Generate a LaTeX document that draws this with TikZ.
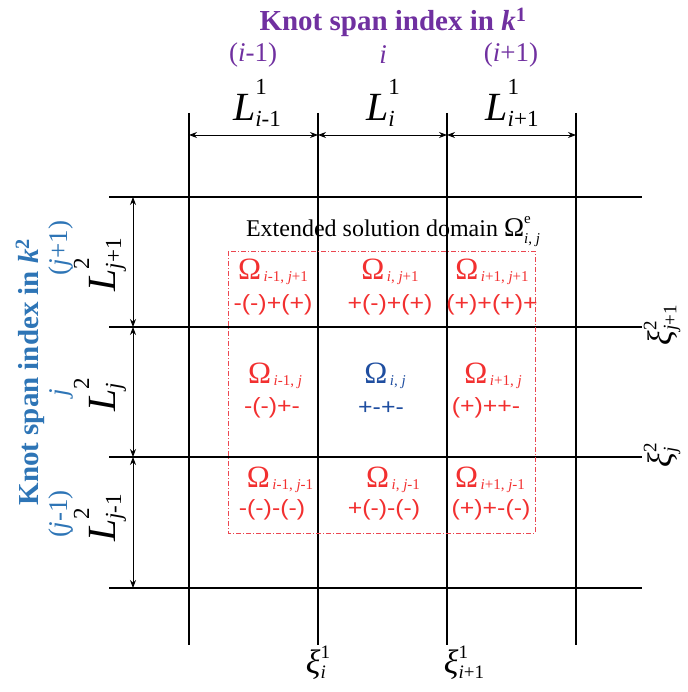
\documentclass[tikz,border=0pt]{standalone}
\usepackage{amsmath}
\usepackage{fontspec}
\setmainfont{Liberation Serif}
\setsansfont{Liberation Sans}
\usepackage{xcolor}
\usepackage{tikz}
\usetikzlibrary{arrows.meta,calc,positioning}

\definecolor{spanpurple}{RGB}{112,48,160}
\definecolor{spanblue}{RGB}{46,117,182}
\definecolor{cellred}{RGB}{242,48,48}
\definecolor{cellblue}{RGB}{31,78,160}
\definecolor{boxred}{RGB}{235,70,80}

\newcommand{\omcell}[1]{{\fontsize{31}{33}\selectfont Ω}\raisebox{-2pt}{\fontsize{15}{17}\selectfont\,#1}}
\newcommand{\signs}[1]{\scalebox{1.13}[1]{\fontsize{22}{24}\selectfont\sffamily #1}}
% script size, raise of sup, drop of sub, sup, sub
\newcommand{\supsub}[5]{{\fontsize{#1}{#1}\selectfont
  \setbox0=\hbox{\raisebox{#2}{#4}}\setbox2=\hbox{\raisebox{-#3}{#5}}%
  \ifdim\wd0>\wd2 \rlap{\box2}\box0\else\rlap{\box0}\box2\fi}}
\newcommand{\lenscr}[2]{\supsub{23}{26pt}{6pt}{#1}{#2}}
\newcommand{\knotscr}[2]{\supsub{19}{15pt}{5pt}{#1}{#2}}

\tikzset{
  gridline/.style={line width=2.2pt},
  dimline/.style={line width=0.9pt,{Stealth[length=8pt,width=6pt]}-{Stealth[length=8pt,width=6pt]}},
  extbox/.style={draw=boxred,line width=0.8pt,dash pattern=on 5pt off 2pt on 1pt off 2pt},
  headlabel/.style={font=\fontsize{29}{32}\selectfont\bfseries,inner sep=0pt},
  idxlabel/.style={font=\fontsize{27}{30}\selectfont,inner sep=0pt},
  lenlabel/.style={font=\fontsize{40}{44}\selectfont,inner sep=0pt},
  knotlabel/.style={font=\fontsize{34}{36}\selectfont,inner sep=0pt},
  omnode/.style={text=cellred,inner sep=0pt},
}

\begin{document}
\begin{tikzpicture}[x=1pt,y=-1pt]
  \useasboundingbox (0,0) rectangle (687,692);
  % grid lines and dimension arrows
  \foreach \n/\x in {1/189,2/318,3/447,4/576} {
    \coordinate (vt\n) at (\x,113);
    \coordinate (vb\n) at (\x,645);
    \coordinate (da\n) at (\x,135);
    \draw[gridline] (vt\n) -- (vb\n);}
  \foreach \n/\y in {1/197,2/327,3/457,4/588} {
    \coordinate (hl\n) at (109,\y);
    \coordinate (hr\n) at (642,\y);
    \coordinate (dl\n) at (133,\y);
    \draw[gridline] (hl\n) -- (hr\n);}
  \foreach \a/\b in {1/2,2/3,3/4} {
    \draw[dimline] (da\a) -- (da\b);
    \draw[dimline] (dl\a) -- (dl\b);}
  \draw[extbox] (228,251) rectangle (535,533);

  % span indices and lengths
  \node[headlabel,text=spanpurple] (headk1) at (393,22) {Knot span index in \textit{k}\textsuperscript{1}};
  \node[headlabel,text=spanblue,rotate=90] (headk2) at (30,372) {Knot span index in \textit{k}\textsuperscript{2}};
  \node[idxlabel,text=spanpurple] (im1) at (253,55) {(\textit{i}-1)};
  \node[idxlabel,text=spanpurple] (i0) at (383,55) {\textit{i}};
  \node[idxlabel,text=spanpurple] (ip1) at (511,55) {(\textit{i}+1)};
  \node[idxlabel,text=spanblue,rotate=90] (jp1) at (61,248) {(\textit{j}+1)};
  \node[idxlabel,text=spanblue,rotate=90] (j0) at (61,393) {\textit{j}};
  \node[idxlabel,text=spanblue,rotate=90] (jm1) at (61,514) {(\textit{j}-1)};
  \node[lenlabel] (lim1) at (257,103) {\textit{L}\lenscr{1}{\textit{i}-1}};
  \node[lenlabel] (li0) at (383,103) {\textit{L}\lenscr{1}{\textit{i}}};
  \node[lenlabel] (lip1) at (512,103) {\textit{L}\lenscr{1}{\textit{i}+1}};
  \node[lenlabel,rotate=90] (ljp1) at (100,265) {\textit{L}\lenscr{2}{\textit{j}+1}};
  \node[lenlabel,rotate=90] (lj0) at (100,395) {\textit{L}\lenscr{2}{\textit{j}}};
  \node[lenlabel,rotate=90] (ljm1) at (100,518) {\textit{L}\lenscr{2}{\textit{j}-1}};

  % knot values
  \node[knotlabel] (xii) at (318,663) {\textit{ξ}\knotscr{1}{\textit{i}}};
  \node[knotlabel] (xiip1) at (464,663) {\textit{ξ}\knotscr{1}{\textit{i}+1}};
  \node[knotlabel,rotate=90] (xijp1) at (662,325) {\textit{ξ}\knotscr{2}{\textit{j}+1}};
  \node[knotlabel,rotate=90] (xij) at (662,455) {\textit{ξ}\knotscr{2}{\textit{j}}};

  % extended domain and its cells
  \node[font=\fontsize{24}{26}\selectfont,inner sep=0pt] (extlabel) at (393,232) {Extended solution domain {\fontsize{27}{30}\selectfont Ω}\supsub{15}{13pt}{7pt}{e}{\textit{i}, \textit{j}}};
  \node[omnode] (om11) at (273,272) {\omcell{\textit{i}-1, \textit{j}+1}};
  \node[omnode] (om21) at (390,272) {\omcell{\textit{i}, \textit{j}+1}};
  \node[omnode] (om31) at (492,272) {\omcell{\textit{i}+1, \textit{j}+1}};
  \node[omnode] (om12) at (275,376) {\omcell{\textit{i}-1, \textit{j}}};
  \node[omnode,text=cellblue] (om22) at (385,376) {\omcell{\textit{i}, \textit{j}}};
  \node[omnode] (om32) at (493,376) {\omcell{\textit{i}+1, \textit{j}}};
  \node[omnode] (om13) at (280,480) {\omcell{\textit{i}-1, \textit{j}-1}};
  \node[omnode] (om23) at (393,480) {\omcell{\textit{i}, \textit{j}-1}};
  \node[omnode] (om33) at (490,480) {\omcell{\textit{i}+1, \textit{j}-1}};
  \node[omnode] (sg11) at (273,305) {\signs{-(-)+(+)}};
  \node[omnode] (sg21) at (390,305) {\signs{+(-)+(+)}};
  \node[omnode] (sg31) at (492,305) {\signs{(+)+(+)+}};
  \node[omnode] (sg12) at (272,408) {\signs{-(-)+-}};
  \node[omnode,text=cellblue] (sg22) at (381,408) {\signs{+-+-}};
  \node[omnode] (sg32) at (486,408) {\signs{(+)++-}};
  \node[omnode] (sg13) at (272,510) {\signs{-(-)-(-)}};
  \node[omnode] (sg23) at (384,510) {\signs{+(-)-(-)}};
  \node[omnode] (sg33) at (491,510) {\signs{(+)+-(-)}};
\end{tikzpicture}
\end{document}
